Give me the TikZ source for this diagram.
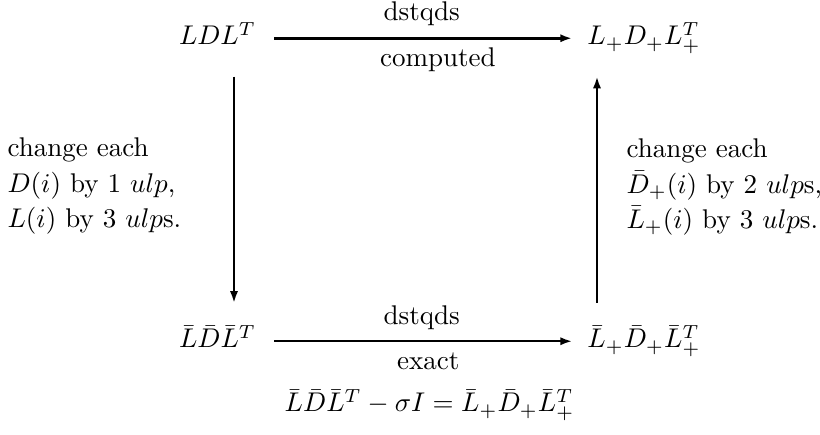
\documentclass[tikz,border=0pt]{standalone}
\usepackage{amsmath,amssymb}
\usepackage{tikz}
\usetikzlibrary{positioning,arrows.meta}

\begin{document}
\begin{tikzpicture}[x=0.013cm,y=-0.013cm,
    mat/.style={inner sep=0pt,text height=8pt,text depth=3pt,anchor=base},
    arr/.style={draw,line width=0.75pt,-{Latex[length=4.3pt,width=3pt]},shorten <=6.5pt,shorten >=5.5pt},
    varr/.style={arr,shorten <=8.5pt,shorten >=8.5pt},
    lblup/.style={above,inner sep=4pt},
    lbldn/.style={below,inner sep=3pt},
    note/.style={align=left,anchor=west,inner sep=0pt}
  ]
    \useasboundingbox (0,0) rectangle (820,435);

    % the four factorizations
    \node[mat] (ldl)  at (217.5,45)  {$LDL^T$};
    \node[mat] (ldlp) at (644,45)    {$L_+D_+L_+^T$};
    \node[mat] (bldl) at (217.5,348) {$\bar L\bar D\bar L^T$};
    \node[mat] (bldlp) at (644,348)  {$\bar L_+\bar D_+\bar L_+^T$};
    \coordinate (lx) at (234,0);
    \coordinate (rx) at (597,0);

    \draw[arr,line width=1.1pt] (ldl) -- node[lblup] {dstqds} node[lbldn,xshift=6pt] {computed} (ldlp);
    \draw[arr] (bldl) -- node[lblup] {dstqds} node[lbldn,xshift=2.4pt,yshift=-1pt] {exact} (bldlp);
    \draw[varr] (ldl.south -| lx) -- (bldl.north -| lx);
    \draw[varr] (bldlp.north -| rx) -- (ldlp.south -| rx);

    \node[note] (lnote) at (7,186) {change each\\[1pt] $D(i)$ by 1 $ulp$,\\[1pt] $L(i)$ by 3 $ulp$s.};
    \node[note] (rnote) at (626,187) {change each\\[1.2pt] $\bar D_+(i)$ by 2 $ulp$s,\\[1.2pt] $\bar L_+(i)$ by 3 $ulp$s.};

    \node[anchor=base] (eq) at (429.5,412) {$\bar L\bar D\bar L^T-\sigma I=\bar L_+\bar D_+\bar L_+^T$};
  \end{tikzpicture}
\end{document}
